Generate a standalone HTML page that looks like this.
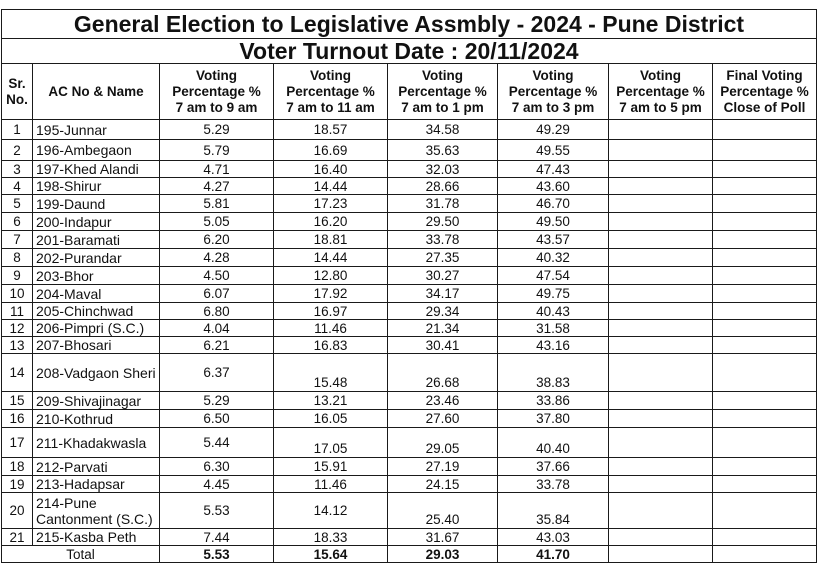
<!DOCTYPE html>
<html><head><meta charset="utf-8"><style>
html,body{margin:0;padding:0;background:#fff;width:817px;height:561px;overflow:hidden}
#t{position:absolute;left:0;top:0;width:817px;height:561px}
.c{position:absolute;box-sizing:border-box;border:1.5px solid #1a1a1a;display:flex;align-items:center;justify-content:center;text-align:center;font-family:"Liberation Sans",sans-serif;color:#111}
.h{font-weight:bold;font-size:13.5px;line-height:16px}
.n{font-size:13.5px}
.name{justify-content:flex-start;padding-left:3px;text-align:left;font-size:14px;line-height:16px}
.bot{align-items:flex-end;padding-bottom:1px}
</style></head><body>
<div id="t"></div>
<script>
const names=["195-Junnar","196-Ambegaon","197-Khed Alandi","198-Shirur","199-Daund","200-Indapur","201-Baramati","202-Purandar","203-Bhor","204-Maval","205-Chinchwad","206-Pimpri (S.C.)","207-Bhosari","208-Vadgaon Sheri","209-Shivajinagar","210-Kothrud","211-Khadakwasla","212-Parvati","213-Hadapsar","214-Pune<br>Cantonment (S.C.)","215-Kasba Peth"];
const v9=["5.29","5.79","4.71","4.27","5.81","5.05","6.20","4.28","4.50","6.07","6.80","4.04","6.21","6.37","5.29","6.50","5.44","6.30","4.45","5.53","7.44"];
const v11=["18.57","16.69","16.40","14.44","17.23","16.20","18.81","14.44","12.80","17.92","16.97","11.46","16.83","15.48","13.21","16.05","17.05","15.91","11.46","14.12","18.33"];
const v1=["34.58","35.63","32.03","28.66","31.78","29.50","33.78","27.35","30.27","34.17","29.34","21.34","30.41","26.68","23.46","27.60","29.05","27.19","24.15","25.40","31.67"];
const v3=["49.29","49.55","47.43","43.60","46.70","49.50","43.57","40.32","47.54","49.75","40.43","31.58","43.16","38.83","33.86","37.80","40.40","37.66","33.78","35.84","43.03"];
const totals=["5.53","15.64","29.03","41.70"];
const X=[1,32,159,273,387,497,608,712,816];
const Y=[119,139,160,177,194,212,230,248,266,284,302,319,336,353,391,409,427,457,475,492,528,545,562];
const T=document.getElementById('t');
function cell(x0,y0,x1,y1,html,cls,name){const d=document.createElement('div');d.className='c '+(cls||'');d.style.left=x0+'px';d.style.top=y0+'px';d.style.width=(x1-x0+1)+'px';d.style.height=(y1-y0+1)+'px';d.innerHTML=html;


T.appendChild(d);return d;}
let a=cell(1,9,816,38,'General Election to Legislative Assmbly - 2024 - Pune District','h','table-title');a.style.fontSize='23px';
a=cell(1,38,816,63,'Voter Turnout Date : 20/11/2024','h','turnout-date');a.style.fontSize='23px';
const heads=["Sr.<br>No.","AC No &amp; Name","Voting<br>Percentage %<br>7 am to 9 am","Voting<br>Percentage %<br>7 am to 11 am","Voting<br>Percentage %<br>7 am to 1 pm","Voting<br>Percentage %<br>7 am to 3 pm","Voting<br>Percentage %<br>7 am to 5 pm","Final Voting<br>Percentage %<br>Close of Poll"];
heads.forEach((h,i)=>cell(X[i],63,X[i+1],119,h,'h','column-header'));
const tall=[13,16,19];
for(let r=0;r<21;r++){const y0=Y[r],y1=Y[r+1];const b=tall.includes(r)&&r!==19?' bot':'';const b2=tall.includes(r)?' bot':'';
cell(X[0],y0,X[1],y1,String(r+1),'n','sr-no');
cell(X[1],y0,X[2],y1,names[r],'name','ac-name');
cell(X[2],y0,X[3],y1,v9[r],'n','value-9am');
cell(X[3],y0,X[4],y1,v11[r],'n'+b,'value-11am');
cell(X[4],y0,X[5],y1,v1[r],'n'+b2,'value-1pm');
cell(X[5],y0,X[6],y1,v3[r],'n'+b2,'value-3pm');
cell(X[6],y0,X[7],y1,'','n','value-5pm');
cell(X[7],y0,X[8],y1,'','n','value-final');}
cell(X[0],545,X[2],562,'Total','n','total-label');
totals.forEach((t,i)=>{const d=cell(X[i+2],545,X[i+3],562,t,'n','total-value');d.style.fontWeight='bold';});
cell(X[6],545,X[7],562,'','n','total-5pm');cell(X[7],545,X[8],562,'','n','total-final');
</script></body></html>
